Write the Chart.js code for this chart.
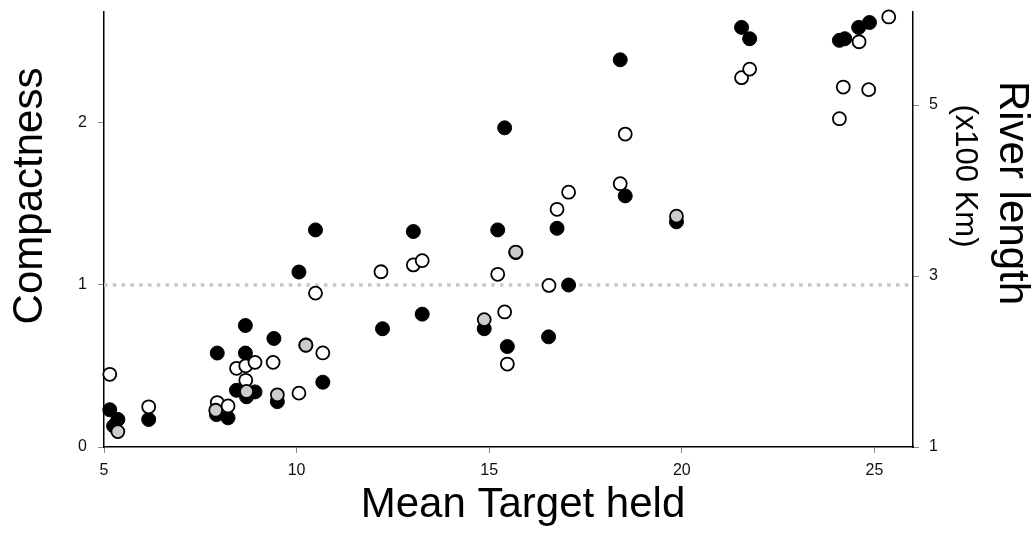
<!DOCTYPE html>
<html>
<head>
<meta charset="utf-8">
<script src="https://cdn.jsdelivr.net/npm/chart.js@4.4.1/dist/chart.umd.min.js"></script>
<style>
  body { margin: 0; background: #fff; }
  canvas { display: block; }
</style>
</head>
<body>
<canvas id="canvas" width="1035" height="543"></canvas>
<script>
// filled circles: compactness (left axis)
var filledX = [5.15, 5.36, 5.25, 6.16, 7.92, 8.22, 7.94, 8.67, 8.67, 8.44, 8.92, 8.70, 9.41, 9.50, 10.06, 10.24, 10.49, 10.68, 12.23, 13.03, 13.26, 14.87, 15.22, 15.40, 15.47, 15.69, 16.54, 16.76, 17.06, 18.40, 18.53, 19.86, 21.55, 21.76, 24.09, 24.23, 24.59, 24.87];
var compactness = [0.23, 0.17, 0.13, 0.17, 0.20, 0.18, 0.58, 0.75, 0.58, 0.35, 0.34, 0.31, 0.67, 0.28, 1.08, 0.63, 1.34, 0.40, 0.73, 1.33, 0.82, 0.73, 1.34, 1.97, 0.62, 1.20, 0.68, 1.35, 1.00, 2.39, 1.55, 1.39, 2.59, 2.52, 2.51, 2.52, 2.59, 2.62];

// open circles: river length (right axis, x100 km)
var openX = [5.15, 5.36, 6.16, 7.94, 7.90, 8.22, 8.44, 8.68, 8.92, 8.68, 8.70, 9.39, 9.50, 10.06, 10.24, 10.68, 10.49, 12.19, 13.03, 13.26, 14.87, 15.22, 15.40, 15.47, 15.69, 16.55, 16.76, 17.06, 18.40, 18.53, 19.86, 21.55, 21.76, 24.09, 24.19, 24.85, 24.60, 25.37];
var riverLength = [1.85, 1.18, 1.47, 1.52, 1.43, 1.48, 1.92, 1.95, 1.99, 1.78, 1.65, 1.99, 1.61, 1.63, 2.19, 2.10, 2.80, 3.05, 3.13, 3.18, 2.49, 3.02, 2.58, 1.97, 3.28, 2.89, 3.78, 3.98, 4.08, 4.66, 3.70, 5.32, 5.42, 4.84, 5.21, 5.18, 5.74, 6.03];

var refCompactness = 1;
var xTicks = [5, 10, 15, 20, 25];
var leftTicks = [0, 1, 2];
var rightTicks = [1, 3, 5];

var xTitle = "Mean Target held";
var leftTitle = "Compactness";
var rightTitle = "River length";
var rightSubTitle = "(x100 Km)";

var X_MIN = 5, X_MAX = 26;
var FONT = '"Liberation Sans", Arial, sans-serif';

function toPoints(xs, ys) {
  return xs.map(function(x, i) { return { x: x, y: ys[i] }; });
}

// open circles sitting on a filled one get the grey fill
function openFill(ctx) {
  if (ctx.type !== "data") return "#fff";
  var s = ctx.chart.scales;
  var px = s.x.getPixelForValue(ctx.raw.x);
  var py = s.y1.getPixelForValue(ctx.raw.y);
  for (var i = 0; i < filledX.length; i++) {
    var dx = s.x.getPixelForValue(filledX[i]) - px;
    var dy = s.y.getPixelForValue(compactness[i]) - py;
    if (Math.sqrt(dx * dx + dy * dy) < 10) return "#cccccc";
  }
  return "#fff";
}

var titlePlugin = {
  id: "axisTitles",
  afterDraw: function(chart) {
    var ctx = chart.ctx;
    ctx.save();
    ctx.fillStyle = "#000";
    ctx.textAlign = "center";
    ctx.textBaseline = "middle";
    ctx.font = "42px " + FONT;
    ctx.fillText(xTitle, 523, 505);

    ctx.save();
    ctx.translate(30, 196);
    ctx.rotate(-Math.PI / 2);
    ctx.fillText(leftTitle, 0, 0);
    ctx.restore();

    ctx.save();
    ctx.translate(1012, 193);
    ctx.rotate(Math.PI / 2);
    ctx.fillText(rightTitle, 0, 0);
    ctx.restore();

    ctx.save();
    ctx.font = "31px " + FONT;
    ctx.translate(965, 176);
    ctx.rotate(Math.PI / 2);
    ctx.fillText(rightSubTitle, 0, 0);
    ctx.restore();

    ctx.restore();
  }
};

function fixedTicks(list) {
  return function(scale) {
    scale.ticks = list.map(function(v) { return { value: v }; });
  };
}

function fixWidth(w) {
  return function(s) {
    s.width = w;
    s.paddingTop = 0;
    s.paddingBottom = 0;
  };
}

var tickFont = { family: FONT, size: 16 };

var config = {
  type: "scatter",
  data: {
    datasets: [
      {
        label: "River length",
        data: toPoints(openX, riverLength),
        yAxisID: "y1",
        pointRadius: 6.5,
        pointBorderWidth: 1.8,
        borderColor: "#000",
        backgroundColor: openFill,
        clip: false
      },
      {
        label: "Compactness",
        data: toPoints(filledX, compactness),
        yAxisID: "y",
        pointRadius: 7,
        pointBorderWidth: 1,
        borderColor: "#000",
        backgroundColor: "#000",
        clip: false
      },
      {
        label: "reference",
        type: "line",
        data: [{ x: X_MIN, y: refCompactness }, { x: X_MAX, y: refCompactness }],
        yAxisID: "y",
        pointRadius: 0,
        borderColor: "#c8c8c8",
        borderWidth: 3.5,
        borderDash: [3.5, 5.3],
        fill: false
      }
    ]
  },
  options: {
    responsive: false,
    animation: false,
    devicePixelRatio: 1,
    layout: { padding: { top: 12, left: 0, right: 0, bottom: 0 } },
    plugins: {
      legend: { display: false },
      tooltip: { enabled: false }
    },
    scales: {
      x: {
        type: "linear",
        min: X_MIN,
        max: X_MAX,
        afterBuildTicks: fixedTicks(xTicks),
        afterFit: function(s) { s.height = 96; },
        grid: { drawOnChartArea: false, drawTicks: true, tickLength: 6, color: "#888" },
        border: { display: true, color: "#000", width: 1.5 },
        ticks: { padding: 8, font: tickFont, color: "#111", autoSkip: false, maxRotation: 0 }
      },
      y: {
        type: "linear",
        position: "left",
        min: 0,
        max: 2.685,
        afterBuildTicks: fixedTicks(leftTicks),
        afterFit: fixWidth(104),
        grid: { drawOnChartArea: false, drawTicks: true, tickLength: 6, color: "#888" },
        border: { display: true, color: "#000", width: 1.5 },
        ticks: { padding: 11, font: tickFont, color: "#111", autoSkip: false }
      },
      y1: {
        type: "linear",
        position: "right",
        min: 1,
        max: 6.088,
        afterBuildTicks: fixedTicks(rightTicks),
        afterFit: fixWidth(122),
        grid: { drawOnChartArea: false, drawTicks: true, tickLength: 6, color: "#888" },
        border: { display: true, color: "#000", width: 1.5 },
        ticks: { padding: 10, font: tickFont, color: "#111", autoSkip: false }
      }
    }
  },
  plugins: [titlePlugin]
};

window.onload = function() {
  var ctx = document.getElementById("canvas").getContext("2d");
  window.myScatter = new Chart(ctx, config);
};
</script>
</body>
</html>
